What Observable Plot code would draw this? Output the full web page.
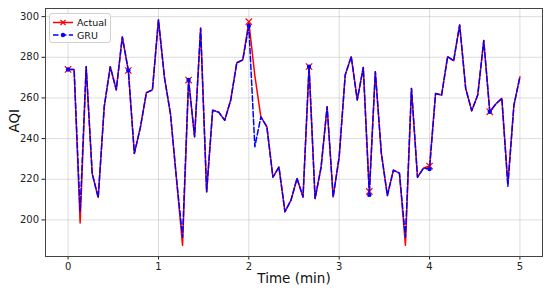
<!DOCTYPE html>
<html>
<head>
<meta charset="utf-8">
<script src="https://cdn.jsdelivr.net/npm/d3@7"></script>
<script src="https://cdn.jsdelivr.net/npm/@observablehq/plot@0.6"></script>
<style>
  html, body { margin: 0; padding: 0; background: #fff; }
  #wrap { position: relative; width: 550px; height: 291px; font-family: "DejaVu Sans", sans-serif; }
  #legend { position: absolute; left: 49px; top: 13px; width: 62px; height: 30px; box-sizing: border-box;
    border: 1px solid #d0d0d0; border-radius: 3px; background: rgba(255,255,255,0.85); }
</style>
</head>
<body>
<div id="wrap"></div>
<script>
// Sample times (seconds)
const seconds = [0,4,8,12,16,20,24,28,32,36,40,44,48,52,56,60,64,68,72,76,80,84,88,92,96,100,104,108,112,116,120,124,128,132,136,140,144,148,152,156,160,164,168,172,176,180,184,188,192,196,200,204,208,212,216,220,224,228,232,236,240,244,248,252,256,260,264,268,272,276,280,284,288,292,296,300];
const actual = [274,274,198.5,275.4,222.8,211,255.7,275.4,264,290,273.5,232.7,245.5,262.6,264,298.4,270,252,220,187.5,268.8,240.9,294.3,213.8,254,253,249,259,277.3,278.7,297.5,271,250.7,245.8,221,226,204,209.7,220.4,211.3,275.4,210.5,226,255.7,211.3,231,271.3,280.3,259,275,214,272.9,232.7,212,224.5,223,187.5,264.7,221,225.5,226.5,262.2,261.4,280.3,278.3,295.9,264.7,253.7,261.4,288.2,253.2,257,259.8,218,256.3,270.4];
const gru = [274,274,204,275.4,222.8,211,255.7,275.4,264,290,273.5,232.7,245.5,262.6,264,298.4,270,252,220,191.5,268.8,240.9,294.3,213.8,254,253,249,259,277.3,278.7,295.5,236,250.7,245.8,221,226,204,209.7,220.4,211.3,275.4,210.5,226,255.7,211.3,231,271.3,280.3,259,275,212.3,272.9,232.7,212,224.5,223,191.5,264.7,221,225.5,225,262.2,261.4,280.3,278.3,295.9,264.7,253.7,261.4,288.2,253.2,257,259.8,216.5,256.3,270.4];
const xTicks = [0,1,2,3,4,5];
const yTicks = [200,220,240,260,280,300];
const seriesNames = ["Actual", "GRU"];

const rows = seconds.map((s, i) => ({i, t: s / 60, actual: actual[i], gru: gru[i]}));
const marked = rows.filter(d => d.i % 10 === 0);

const chart = Plot.plot({
  width: 550,
  height: 291,
  marginLeft: 45,
  marginRight: 8,
  marginTop: 8,
  marginBottom: 35,
  style: {fontFamily: "DejaVu Sans, sans-serif", background: "white"},
  x: {domain: [-0.25, 5.25]},
  y: {domain: [182, 304]},
  marks: [
    Plot.gridX(xTicks, {stroke: "#b0b0b0", strokeOpacity: 0.55, strokeWidth: 0.8}),
    Plot.gridY(yTicks, {stroke: "#b0b0b0", strokeOpacity: 0.55, strokeWidth: 0.8}),
    Plot.line(rows, {x: "t", y: "actual", stroke: "#ff0000", strokeWidth: 1.5}),
    Plot.dot(marked, {x: "t", y: "actual", symbol: "times", r: 3, stroke: "#ff0000", strokeWidth: 1.2}),
    Plot.line(rows, {x: "t", y: "gru", stroke: "#0000ff", strokeWidth: 1.5, strokeDasharray: "5.5,2.4"}),
    Plot.dot(marked, {x: "t", y: "gru", r: 2.2, fill: "#0000ff", stroke: "none"}),
    Plot.axisX(xTicks, {tickSize: 3.5, fontSize: 10, tickPadding: 3, label: null, color: "#222"}),
    Plot.axisY(yTicks, {tickSize: 3.5, fontSize: 10, tickPadding: 3, label: null, color: "#222"}),
    Plot.frame({stroke: "#444", strokeWidth: 1}),
    Plot.text(["Time (min)"], {frameAnchor: "bottom", dy: 26, fontSize: 13.5, fill: "#111"}),
    Plot.text(["AQI"], {frameAnchor: "left", dx: -31, rotate: -90, fontSize: 13.5, fill: "#111"})
  ]
});
const wrap = document.getElementById("wrap");
wrap.appendChild(chart);

// Legend overlay
const leg = document.createElement("div");
leg.id = "legend";
leg.innerHTML = `
<svg width="62" height="30" style="position:absolute;left:0;top:0">
  <line x1="3" x2="23" y1="8.5" y2="8.5" stroke="#ff0000" stroke-width="1.5"/>
  <path d="M10.5,6 L15.5,11 M15.5,6 L10.5,11" stroke="#ff0000" stroke-width="1.2"/>
  <line x1="3" x2="23" y1="21" y2="21" stroke="#0000ff" stroke-width="1.5" stroke-dasharray="5.5,2.4"/>
  <circle cx="13" cy="21" r="2.2" fill="#0000ff"/>
  <text x="27" y="12" font-size="9.5" font-family="DejaVu Sans, sans-serif" fill="#111">${seriesNames[0]}</text>
  <text x="27" y="24.5" font-size="9.5" font-family="DejaVu Sans, sans-serif" fill="#111">${seriesNames[1]}</text>
</svg>`;
wrap.appendChild(leg);
</script>
</body>
</html>
